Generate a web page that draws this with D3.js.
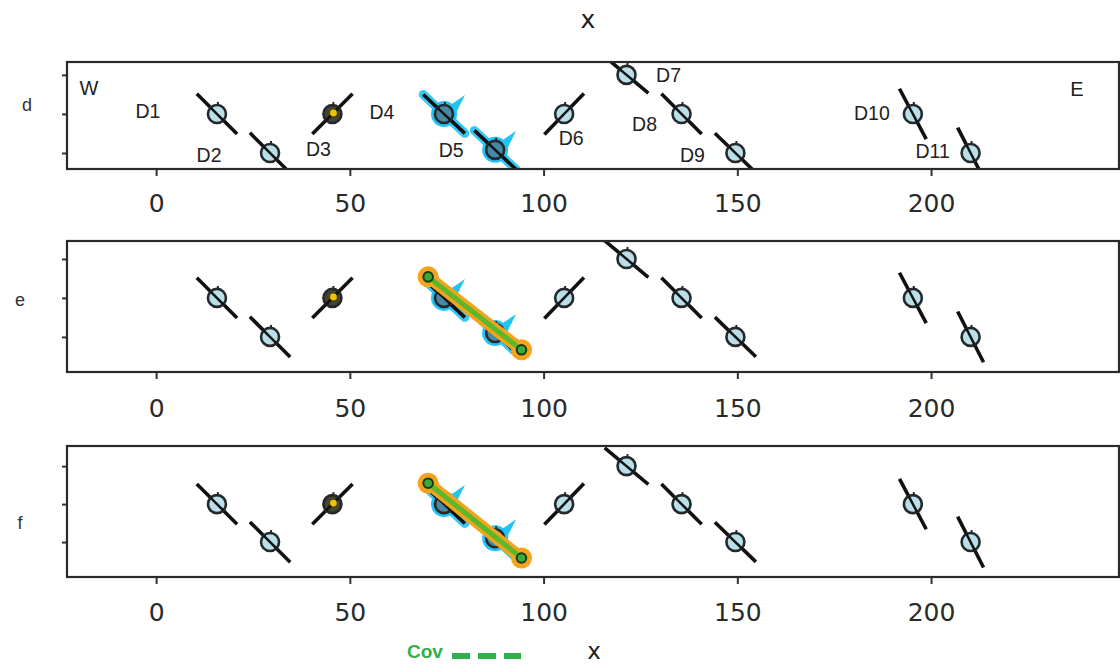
<!DOCTYPE html>
<html>
<head>
<meta charset="utf-8">
<script src="https://cdn.jsdelivr.net/npm/d3@7"></script>
<style>
  html, body { margin: 0; padding: 0; background: #fff; }
  svg { display: block; }
</style>
</head>
<body>
<svg id="chart" width="1120" height="666"></svg>
<script>
// ---------------- data ----------------
const categories   = ["D1","D2","D3","D4","D5","D6","D7","D8","D9","D10","D11"];
const xPos         = [15.7, 29.4, 45.5, 74.3, 87.5, 105.3, 121.4, 135.6, 149.5, 195.3, 210.2];
const levelD       = [2, 1, 2, 2, 1.08, 2, 3, 2, 1, 2, 1];
const levelE       = [2, 1, 2, 2, 1.1, 2, 3, 2, 1, 2, 1];
const levelF       = [2, 1, 2, 2, 1.1, 2, 3, 2, 1, 2, 1];
const strikeAngle  = [45, 45, -45, 43, 43, -46, 40, 45, 44, 62, 63];
const pointKind    = ["o","o","y","h","h","o","o","o","o","o","o"]; // o normal, y yellow, h highlighted
const covX         = [70.2, 94.3];
const covLevelE    = [2.54, 0.67];
const covLevelF    = [2.55, 0.58];
const xTicks       = [0, 50, 100, 150, 200];
const yTicks       = [1, 2, 3];
const panelNames   = ["d", "e", "f"];

// ---------------- layout ----------------
const svg = d3.select("#chart");
const X0 = 67, X1 = 1119;
const x = d3.scaleLinear().domain([-23, 248.5]).range([X0, X1]);

const panels = [
  { name: panelNames[0], top: 62,  bottom: 169, ydom: [0.59, 3.33], levels: levelD, cov: null,      labelY: 203, labels: true,  nameX: 27, nameY: 105 },
  { name: panelNames[1], top: 241, bottom: 372, ydom: [0.1, 3.46],  levels: levelE, cov: covLevelE, labelY: 408, labels: false, nameX: 20, nameY: 300 },
  { name: panelNames[2], top: 446, bottom: 577, ydom: [0.08, 3.53], levels: levelF, cov: covLevelF, labelY: 612, labels: false, nameX: 20, nameY: 523 }
];

const labelOffsets = [[-69,-3],[-61,2],[-14,35],[-62,-2],[-44,0],[7,24],[42,0],[-37,10],[-43,2],[-41,-1],[-38,-2]];

const LINE_HALF = 28.5;
const R = 9;
const GLOW = "#22c3f5";
const SANS = "Liberation Sans, Arial, sans-serif";

panels.forEach((p, pi) => {
  const y = d3.scaleLinear().domain(p.ydom).range([p.bottom, p.top]);
  const g = svg.append("g");

  const clipId = "clip" + pi;
  svg.append("clipPath").attr("id", clipId)
    .append("rect").attr("x", X0).attr("y", p.top).attr("width", X1 - X0).attr("height", p.bottom - p.top);

  // axes
  const xAxis = d3.axisBottom(x).tickValues(xTicks).tickSize(7).tickPadding(9).tickFormat(d3.format("d"));
  const ax = g.append("g").attr("transform", `translate(0,${p.bottom})`).call(xAxis);
  ax.select(".domain").remove();
  ax.selectAll("line").attr("stroke", "#333").attr("stroke-width", 2);
  ax.selectAll("text").attr("font-family", "DejaVu Sans, sans-serif").attr("font-size", 25).attr("fill", "#2a2a2a")
    .attr("y", null).attr("dy", null).attr("dominant-baseline", "central")
    .attr("transform", `translate(0,${p.labelY - p.bottom})`);

  const yAxis = d3.axisLeft(y).tickValues(yTicks).tickSize(5).tickFormat("");
  const ay = g.append("g").attr("transform", `translate(${X0},0)`).call(yAxis);
  ay.select(".domain").remove();
  ay.selectAll("line").attr("stroke", "#333").attr("stroke-width", 2);

  // panel label
  g.append("text").attr("x", p.nameX).attr("y", p.nameY)
    .attr("text-anchor", "middle").attr("dominant-baseline", "central")
    .attr("font-family", SANS).attr("font-size", 18).attr("fill", "#333")
    .text(p.name);

  const plot = g.append("g").attr("clip-path", `url(#${clipId})`);

  const pts = categories.map((c, i) => ({
    name: c, cx: x(xPos[i]), cy: y(p.levels[i]), a: strikeAngle[i] * Math.PI / 180, kind: pointKind[i], i
  }));

  // glow for highlighted
  pts.filter(d => d.kind === "h").forEach(d => {
    const dx = Math.cos(d.a) * LINE_HALF, dy = Math.sin(d.a) * LINE_HALF;
    plot.append("line").attr("x1", d.cx - dx).attr("y1", d.cy - dy).attr("x2", d.cx + dx).attr("y2", d.cy + dy)
      .attr("stroke", GLOW).attr("stroke-width", 9).attr("stroke-linecap", "round").attr("opacity", 0.9);
    plot.append("circle").attr("cx", d.cx).attr("cy", d.cy).attr("r", R + 4).attr("fill", GLOW);
    const fx = d.cx, fy = d.cy;
    plot.append("path")
      .attr("d", `M${fx + 2},${fy - 6} L${fx + 21},${fy - 19} L${fx + 10},${fy + 3} Z`)
      .attr("fill", GLOW);
  });

  // strike lines
  pts.forEach(d => {
    const dx = Math.cos(d.a) * LINE_HALF, dy = Math.sin(d.a) * LINE_HALF;
    plot.append("line").attr("x1", d.cx - dx).attr("y1", d.cy - dy).attr("x2", d.cx + dx).attr("y2", d.cy + dy)
      .attr("stroke", "#111").attr("stroke-width", 3.6);
  });

  // circles
  pts.forEach(d => {
    const fill = d.kind === "y" ? "#3b3a22" : (d.kind === "h" ? "#4a86a0" : "#b6dde8");
    plot.append("circle").attr("cx", d.cx).attr("cy", d.cy).attr("r", R)
      .attr("fill", fill).attr("stroke", "#23292d").attr("stroke-width", 2.6).attr("fill-opacity", 0.95);
    plot.append("line").attr("x1", d.cx + 1).attr("y1", d.cy - R + 1).attr("x2", d.cx + 1).attr("y2", d.cy - R - 3)
      .attr("stroke", "#23292d").attr("stroke-width", 2);
    const dx = Math.cos(d.a) * R, dy = Math.sin(d.a) * R;
    plot.append("line").attr("x1", d.cx - dx).attr("y1", d.cy - dy).attr("x2", d.cx + dx).attr("y2", d.cy + dy)
      .attr("stroke", "#111").attr("stroke-width", 2.4);
    if (d.kind === "y") {
      plot.append("circle").attr("cx", d.cx + 1).attr("cy", d.cy - 1).attr("r", 3.4).attr("fill", "#f2c200");
    }
  });

  // cov line
  if (p.cov) {
    const x1 = x(covX[0]), y1 = y(p.cov[0]), x2 = x(covX[1]), y2 = y(p.cov[1]);
    plot.append("line").attr("x1", x1).attr("y1", y1).attr("x2", x2).attr("y2", y2)
      .attr("stroke", "#f3a41c").attr("stroke-width", 12).attr("stroke-linecap", "round");
    [[x1, y1], [x2, y2]].forEach(([cx, cy]) => {
      plot.append("circle").attr("cx", cx).attr("cy", cy).attr("r", 10.5).attr("fill", "#f3a41c");
    });
    plot.append("line").attr("x1", x1).attr("y1", y1).attr("x2", x2).attr("y2", y2)
      .attr("stroke", "#5cb82a").attr("stroke-width", 5);
    [[x1, y1], [x2, y2]].forEach(([cx, cy]) => {
      plot.append("circle").attr("cx", cx).attr("cy", cy).attr("r", 4.8)
        .attr("fill", "#3fa83a").attr("stroke", "#173a17").attr("stroke-width", 2);
    });
  }

  // point labels
  if (p.labels) {
    pts.forEach(d => {
      g.append("text").attr("x", d.cx + labelOffsets[d.i][0]).attr("y", d.cy + labelOffsets[d.i][1])
        .attr("text-anchor", "middle").attr("dominant-baseline", "central")
        .attr("font-family", SANS).attr("font-size", 19.5).attr("fill", "#222")
        .text(d.name);
    });
    g.append("text").attr("x", 89).attr("y", 88).attr("text-anchor", "middle").attr("dominant-baseline", "central")
      .attr("font-family", SANS).attr("font-size", 20).attr("fill", "#222").text("W");
    g.append("text").attr("x", 1077).attr("y", 89).attr("text-anchor", "middle").attr("dominant-baseline", "central")
      .attr("font-family", SANS).attr("font-size", 20).attr("fill", "#222").text("E");
  }

  // frame
  g.append("rect").attr("x", X0).attr("y", p.top).attr("width", X1 - X0).attr("height", p.bottom - p.top)
    .attr("fill", "none").attr("stroke", "#2a2a2a").attr("stroke-width", 2.2);
});

// titles
svg.append("text").attr("x", 588).attr("y", 19).attr("text-anchor", "middle").attr("dominant-baseline", "central")
  .attr("font-family", "DejaVu Sans, sans-serif").attr("font-size", 25).attr("fill", "#222").text("x");
svg.append("text").attr("x", 594).attr("y", 651).attr("text-anchor", "middle").attr("dominant-baseline", "central")
  .attr("font-family", "DejaVu Sans, sans-serif").attr("font-size", 23).attr("fill", "#222").text("x");

// legend
svg.append("text").attr("x", 425).attr("y", 651).attr("text-anchor", "middle").attr("dominant-baseline", "central")
  .attr("font-family", SANS).attr("font-size", 19).attr("font-weight", "bold")
  .attr("fill", "#2fb04d").text("Cov");
svg.append("line").attr("x1", 452).attr("y1", 656).attr("x2", 521).attr("y2", 656)
  .attr("stroke", "#2fb04d").attr("stroke-width", 6).attr("stroke-dasharray", "18,8");
</script>
</body>
</html>
